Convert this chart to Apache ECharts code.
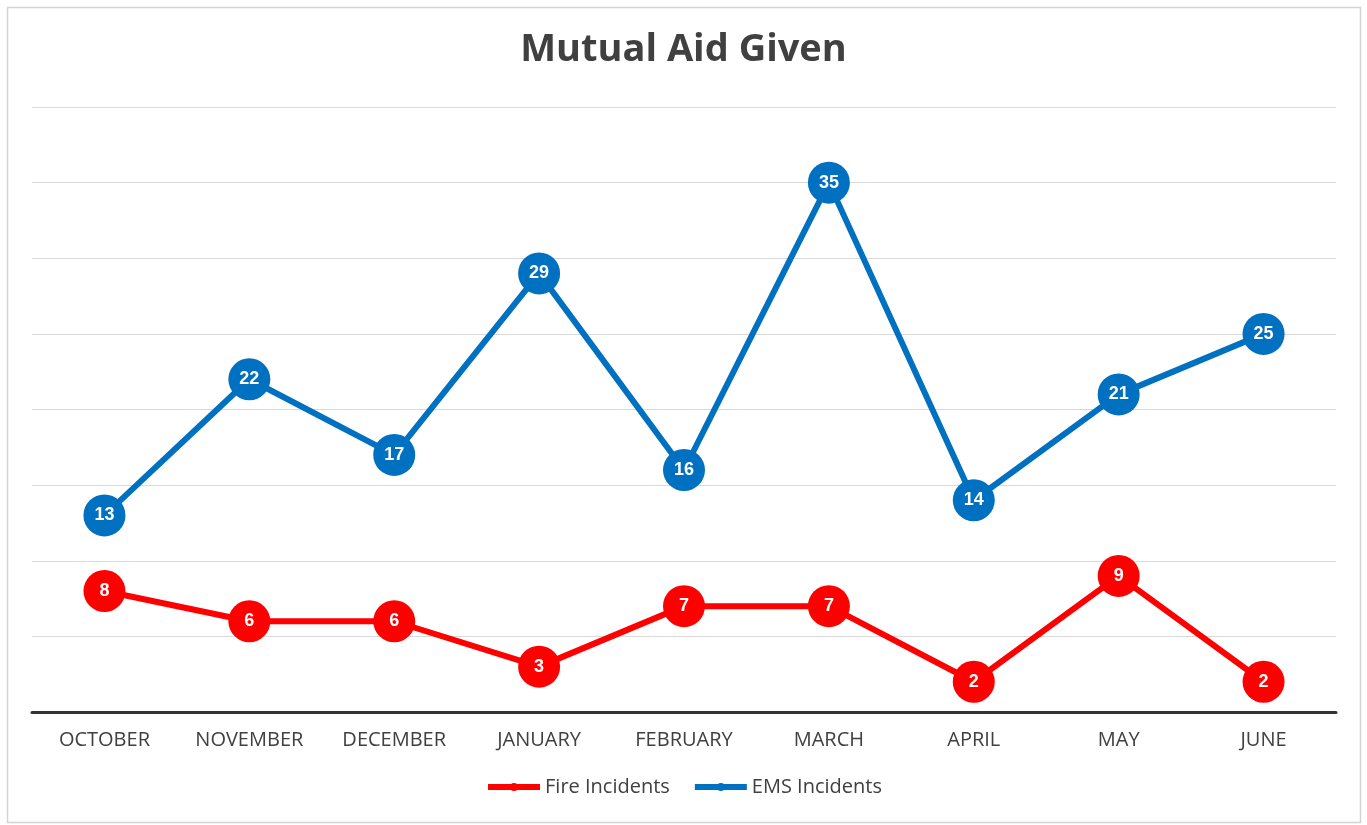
<!DOCTYPE html>
<html>
<head>
<meta charset="utf-8">
<script src="https://cdn.jsdelivr.net/npm/echarts@6/dist/echarts.min.js"></script>
<style>
html,body{margin:0;padding:0;background:#fff;}
#chart{width:1367px;height:825px;}
</style>
</head>
<body>
<div id="chart"></div>
<script>
const categories = ['OCTOBER','NOVEMBER','DECEMBER','JANUARY','FEBRUARY','MARCH','APRIL','MAY','JUNE'];
const fireIncidents = [8,6,6,3,7,7,2,9,2];
const emsIncidents = [13,22,17,29,16,35,14,21,25];
const chartTitle = 'Mutual Aid Given';

const chart = echarts.init(document.getElementById('chart'));
const labelStyle = {show:true, position:'inside', color:'#fff', fontWeight:'bold', fontSize:18, fontFamily:'Liberation Sans, Arial, sans-serif'};
chart.setOption({
  animation:false,
  graphic:[{type:'rect', shape:{x:7.5,y:7.5,width:1353,height:815}, style:{fill:'none', stroke:'#d4d4d4', lineWidth:1.5}, z:-1}],
  title:{text:chartTitle, left:'center', top:26, textStyle:{fontSize:38, fontWeight:'bold', color:'#404040', fontFamily:'"Open Sans", sans-serif'}},
  legend:{bottom:23, left:'center', itemWidth:52, itemHeight:10, itemGap:22,
    lineStyle:{width:6},
    textStyle:{fontSize:20, color:'#404040', fontFamily:'"Open Sans", sans-serif'},
    data:['Fire Incidents','EMS Incidents']},
  grid:{left:32, right:31, top:107, bottom:113},
  xAxis:{type:'category', data:categories, boundaryGap:true,
    axisLine:{lineStyle:{color:'#333', width:3}}, axisTick:{show:false},
    axisLabel:{fontSize:20, color:'#404040', margin:18, fontFamily:'"Open Sans", sans-serif'}},
  yAxis:{type:'value', min:0, max:40, interval:5, axisLabel:{show:false}, axisLine:{show:false}, axisTick:{show:false},
    splitLine:{lineStyle:{color:'#d9d9d9', width:1}}},
  series:[
    {name:'Fire Incidents', type:'line', data:fireIncidents, symbol:'circle', symbolSize:42,
      lineStyle:{color:'#ff0000', width:6}, itemStyle:{color:'#ff0000'}, label:labelStyle},
    {name:'EMS Incidents', type:'line', data:emsIncidents, symbol:'circle', symbolSize:42,
      lineStyle:{color:'#0070c0', width:6}, itemStyle:{color:'#0070c0'}, label:labelStyle}
  ]
});
</script>
</body>
</html>
